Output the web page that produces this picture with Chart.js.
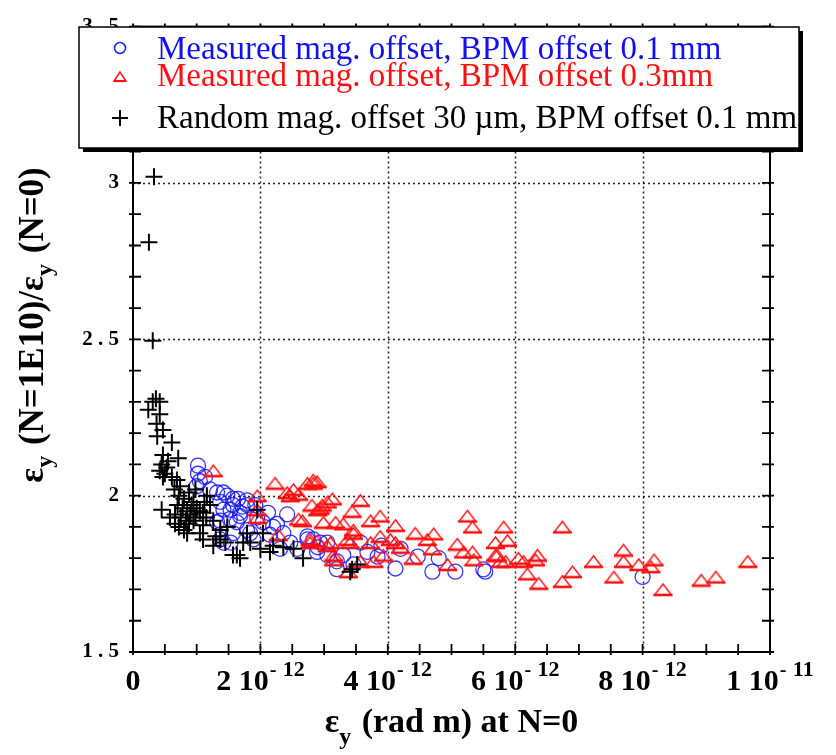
<!DOCTYPE html>
<html>
<head>
<meta charset="utf-8">
<script src="https://cdn.jsdelivr.net/npm/chart.js@4.4.1/dist/chart.umd.min.js"></script>
<style>
html,body{margin:0;padding:0;background:#fff;}
canvas{display:block;}
</style>
</head>
<body>
<canvas id="c" width="836" height="755"></canvas>
<script>
// ---- DATA (x in units of 1e-12 rad m, y = ratio) ----
const X_UNIT = 1e-12;

const seriesLabels = [
  'Measured mag. offset, BPM offset 0.1 mm',
  'Measured mag. offset, BPM offset 0.3mm',
  'Random mag. offset 30 \u00b5m, BPM offset 0.1 mm'
];

const bluePoints = [
  [1.02,2.096],[1.02,2.07],[1.05,2.046],[1.13,2.06],[1.21,2.02],[1.32,2.01],[1.48,2.00],[1.37,1.98],
  [1.57,1.99],[1.53,1.955],[1.37,1.92],[1.68,1.945],[1.79,1.97],[1.63,1.915],[1.37,1.86],[1.53,1.85],
  [1.84,1.88],[1.42,2.01],[1.65,1.99],[1.79,1.985],[1.57,1.97],[1.72,1.965],[1.92,1.97],[1.42,1.955],
  [1.32,1.915],[1.52,1.925],[1.68,1.935],[2.12,1.945],[2.42,1.94],[2.26,1.91],[2.04,1.915],[1.79,1.89],
  [1.57,1.88],[1.42,1.85],[1.89,1.86],[2.15,1.875],[2.36,1.88],[2.47,1.85],[2.31,1.83],[2.58,1.83],
  [2.74,1.86],[2.83,1.86],[2.94,1.85],[3.05,1.85],[2.89,1.82],[3.05,1.81],[3.20,1.79],[3.20,1.765],
  [3.46,1.78],[2.74,1.87],[2.90,1.835],[3.57,1.85],[3.30,1.81],[3.68,1.82],[3.84,1.805],[3.90,1.84],
  [4.12,1.767],[4.20,1.83],[4.47,1.805],[4.80,1.80],[4.70,1.757],[5.06,1.757],[5.50,1.764],[5.53,1.757],
  [8.00,1.74],[1.95,1.93],[2.20,1.90],[1.00,2.03]
];

const redPoints = [
  [1.26,2.08],[1.95,2.00],[1.95,1.955],[1.95,1.93],[2.23,2.04],[2.42,2.01],[2.52,2.02],[2.47,2.00],
  [2.60,2.005],[2.74,2.04],[2.83,2.04],[2.89,2.045],[2.81,1.97],[2.94,1.96],[3.05,1.98],[3.13,1.99],
  [3.44,1.95],[2.60,1.925],[2.99,1.915],[3.18,1.915],[3.30,1.91],[3.46,1.89],[3.37,1.86],[2.28,1.875],
  [2.78,1.86],[2.89,1.855],[3.05,1.84],[3.15,1.81],[2.83,2.05],[3.57,1.985],[2.97,1.97],[2.90,1.955],
  [3.88,1.935],[3.73,1.92],[2.66,1.92],[4.12,1.905],[5.25,1.935],[5.33,1.90],[4.43,1.88],[4.72,1.878],
  [4.62,1.86],[3.46,1.88],[3.88,1.87],[4.04,1.86],[2.78,1.85],[3.10,1.85],[3.41,1.85],[3.73,1.85],
  [4.12,1.85],[4.20,1.835],[3.93,1.81],[4.70,1.83],[5.09,1.845],[5.19,1.82],[5.33,1.82],[5.35,1.795],
  [5.72,1.81],[5.77,1.79],[4.94,1.78],[4.40,1.80],[3.15,1.795],[3.57,1.79],[3.38,1.757],[3.78,1.79],
  [5.82,1.90],[6.74,1.90],[5.69,1.85],[5.88,1.857],[5.69,1.81],[5.85,1.79],[6.05,1.80],[6.13,1.79],
  [6.35,1.81],[6.32,1.795],[6.19,1.75],[6.37,1.72],[6.74,1.726],[6.90,1.757],[7.23,1.79],[7.55,1.74],
  [7.70,1.826],[7.70,1.79],[7.94,1.78],[8.18,1.795],[8.13,1.773],[8.32,1.70],[8.92,1.73],[9.15,1.74],
  [9.65,1.79]
];

const blackPoints = [
  [0.33,3.02],[0.25,2.81],[0.31,2.495],[0.31,2.30],[0.42,2.30],[0.36,2.31],[0.24,2.275],[0.42,2.26],
  [0.37,2.23],[0.47,2.21],[0.38,2.19],[0.61,2.17],[0.55,2.11],[0.71,2.12],[0.47,2.13],[0.45,2.10],
  [0.42,2.08],[0.53,2.09],[0.50,2.07],[0.47,2.06],[0.61,2.06],[0.69,2.05],[0.74,2.03],[0.65,2.02],
  [0.72,2.00],[0.80,1.99],[0.88,2.01],[0.95,1.98],[0.70,1.97],[0.78,1.96],[0.85,1.95],[0.92,1.97],
  [1.00,1.96],[0.66,1.94],[0.75,1.93],[0.83,1.92],[0.90,1.94],[0.98,1.93],[1.05,1.95],[0.72,1.90],
  [0.80,1.89],[0.88,1.91],[0.45,1.955],[0.58,1.93],[0.66,1.91],[0.85,1.88],[1.05,1.88],[0.95,1.92],
  [1.10,1.945],[1.16,2.00],[1.21,1.97],[1.10,1.905],[1.26,1.92],[1.10,1.86],[1.37,1.86],[1.26,1.84],
  [1.63,1.81],[1.79,1.88],[1.73,1.85],[1.48,1.90],[1.30,1.87],[1.37,1.89],[1.68,1.80],[1.57,1.81],
  [1.84,1.85],[2.00,1.83],[2.15,1.82],[2.20,1.84],[2.36,1.835],[2.52,1.83],[2.67,1.80],[1.95,1.955],
  [2.04,1.88],[3.44,1.765],[3.52,1.78],[3.41,1.757],[1.12,1.98],[0.98,2.02],[1.15,1.93],[1.45,1.85]
];

const xTickValues = [0, 2, 4, 6, 8, 10];
const xTickBase = ['0', '2 10', '4 10', '6 10', '8 10', '1 10'];
const xTickExp  = ['', '-12', '-12', '-12', '-12', '-11'];
const yTickValues = [1.5, 2, 2.5, 3, 3.5];
const yTickLabels = ['1 . 5', '2', '2 . 5', '3', '3 . 5'];
const xGridValues = [2, 4, 6, 8];
const yGridValues = [2, 2.5, 3];
const xTitleParts = [['\u03b5', false], ['y', true], [' (rad m) at N=0', false]];
const yTitleParts = [['\u03b5', false], ['y', true], [' (N=1E10)/\u03b5', false], ['y', true], [' (N=0)', false]];

// ---- build ----
const toXY = arr => arr.map(p => ({x: p[0] * X_UNIT, y: p[1]}));

function makeTriangle(w, h, color) {
  const c = document.createElement('canvas');
  c.width = w + 4; c.height = h + 4;
  const g = c.getContext('2d');
  g.strokeStyle = color;
  g.lineWidth = 1.4;
  g.beginPath();
  g.moveTo(c.width / 2, 2);
  g.lineTo(2, h + 2);
  g.lineTo(w + 2, h + 2);
  g.closePath();
  g.stroke();
  g.lineWidth = 2.6;
  g.beginPath();
  g.moveTo(1, h + 2);
  g.lineTo(w + 3, h + 2);
  g.stroke();
  return c;
}
const triImg = makeTriangle(17, 11, '#ff1010');

const SERIF = '"Liberation Serif", "Times New Roman", serif';

const decoPlugin = {
  id: 'deco',
  beforeDatasetsDraw(chart) {
    const {ctx, chartArea: a, scales: {x, y}} = chart;
    ctx.save();
    ctx.strokeStyle = '#222';
    ctx.lineWidth = 1.5;
    ctx.setLineDash([2, 3]);
    xGridValues.forEach(v => {
      const px = Math.round(x.getPixelForValue(v * X_UNIT)) + 0.5;
      ctx.beginPath(); ctx.moveTo(px, a.top); ctx.lineTo(px, a.bottom); ctx.stroke();
    });
    yGridValues.forEach(v => {
      const py = Math.round(y.getPixelForValue(v)) + 0.5;
      ctx.beginPath(); ctx.moveTo(a.left, py); ctx.lineTo(a.right, py); ctx.stroke();
    });
    ctx.restore();
  },
  afterDatasetsDraw(chart) {
    const {ctx, chartArea: a, scales: {x, y}} = chart;
    ctx.save();
    ctx.strokeStyle = '#000';
    ctx.lineWidth = 2;
    ctx.strokeRect(a.left, a.top, a.right - a.left, a.bottom - a.top);
    ctx.lineWidth = 1.8;
    for (let i = 0; i <= 20; i++) {
      const px = x.getPixelForValue(i * 0.5 * X_UNIT);
      ctx.beginPath();
      ctx.moveTo(px, a.bottom + 3); ctx.lineTo(px, a.bottom - 8);
      ctx.moveTo(px, a.top - 3); ctx.lineTo(px, a.top + 8);
      ctx.stroke();
    }
    for (let i = 0; i <= 20; i++) {
      const py = y.getPixelForValue(1.5 + i * 0.1);
      ctx.beginPath();
      ctx.moveTo(a.left - 4, py); ctx.lineTo(a.left + 8, py);
      ctx.moveTo(a.right + 4, py); ctx.lineTo(a.right - 8, py);
      ctx.stroke();
    }
    ctx.restore();
  },
  afterDraw(chart) {
    const {ctx, chartArea: a, scales: {x, y}} = chart;
    ctx.save();
    ctx.fillStyle = '#000';
    ctx.textBaseline = 'alphabetic';
    ctx.textAlign = 'left';
    const baseFont = 'bold 30px ' + SERIF;
    const minusFont = 'bold 20px ' + SERIF;
    const expFont = 'bold 22px ' + SERIF;
    xTickValues.forEach((v, i) => {
      const px = x.getPixelForValue(v * X_UNIT);
      ctx.font = baseFont;
      const wb = ctx.measureText(xTickBase[i]).width;
      let wExp = 0, digits = '';
      if (xTickExp[i]) {
        digits = xTickExp[i].slice(1);
        ctx.font = expFont;
        wExp = 14 + ctx.measureText(digits).width;
      }
      const x0 = px - (wb + wExp) / 2;
      ctx.font = baseFont;
      ctx.fillText(xTickBase[i], x0, 690);
      if (xTickExp[i]) {
        ctx.font = minusFont;
        ctx.fillText('-', x0 + wb + 1, 676);
        ctx.font = expFont;
        ctx.fillText(digits, x0 + wb + 14, 676);
      }
    });

    function partsWidth(parts, big, small) {
      let w = 0;
      parts.forEach(p => { ctx.font = p[1] ? small : big; w += ctx.measureText(p[0]).width + (p[1] ? 2 : 0); });
      return w;
    }
    function drawParts(parts, big, small, subDy) {
      let cx = 0;
      parts.forEach(p => {
        ctx.font = p[1] ? small : big;
        ctx.fillText(p[0], cx, p[1] ? subDy : 0);
        cx += ctx.measureText(p[0]).width + (p[1] ? 2 : 0);
      });
    }
    const xtBig = 'bold 34px ' + SERIF, xtSmall = 'bold 24px ' + SERIF;
    const wx = partsWidth(xTitleParts, xtBig, xtSmall);
    ctx.save();
    ctx.translate((a.left + a.right) / 2 - wx / 2, 732);
    drawParts(xTitleParts, xtBig, xtSmall, 12);
    ctx.restore();

    const ytBig = 'bold 35px ' + SERIF, ytSmall = 'bold 24px ' + SERIF;
    const wy = partsWidth(yTitleParts, ytBig, ytSmall);
    ctx.save();
    ctx.translate(43, 325 + wy / 2);
    ctx.rotate(-Math.PI / 2);
    drawParts(yTitleParts, ytBig, ytSmall, 9);
    ctx.restore();

    // legend box with shadow
    const L = 79, T = 27, R = 799, B = 148;
    ctx.fillStyle = '#000';
    ctx.fillRect(L + 4, T + 4, R - L, B - T);
    ctx.fillStyle = '#fff';
    ctx.fillRect(L, T, R - L, B - T);
    ctx.strokeStyle = '#000';
    ctx.lineWidth = 1.5;
    ctx.strokeRect(L, T, R - L, B - T);

    ctx.lineWidth = 1.5;
    ctx.strokeStyle = '#1a1aff';
    ctx.beginPath(); ctx.arc(120, 48, 5.5, 0, Math.PI * 2); ctx.stroke();
    ctx.strokeStyle = '#ff1010';
    ctx.beginPath(); ctx.moveTo(120, 72); ctx.lineTo(114, 81); ctx.lineTo(126, 81); ctx.closePath(); ctx.stroke();
    ctx.lineWidth = 2.2;
    ctx.beginPath(); ctx.moveTo(114, 81); ctx.lineTo(126, 81); ctx.stroke();
    ctx.strokeStyle = '#000';
    ctx.lineWidth = 2;
    ctx.beginPath(); ctx.moveTo(112, 118); ctx.lineTo(128, 118); ctx.moveTo(120, 110); ctx.lineTo(120, 126); ctx.stroke();

    ctx.font = '33px ' + SERIF;
    ctx.textAlign = 'left';
    ctx.fillStyle = '#1010f0';
    ctx.fillText(seriesLabels[0], 157, 59);
    ctx.fillStyle = '#ff1010';
    ctx.fillText(seriesLabels[1], 157, 86);
    ctx.fillStyle = '#000';
    ctx.save();
    ctx.beginPath(); ctx.rect(L, T, R - L - 1, B - T); ctx.clip();
    ctx.fillText(seriesLabels[2], 157, 128);
    ctx.restore();
    ctx.restore();
  }
};

new Chart(document.getElementById('c').getContext('2d'), {
  type: 'scatter',
  data: {
    datasets: [
      {
        label: seriesLabels[0], data: toXY(bluePoints), order: 2,
        pointStyle: 'circle', pointRadius: 7.5, pointBorderWidth: 1.3,
        borderColor: 'rgba(20,20,255,0.85)', pointBorderColor: 'rgba(20,20,255,0.85)',
        backgroundColor: 'rgba(0,0,0,0)', pointBackgroundColor: 'rgba(0,0,0,0)'
      },
      {
        label: seriesLabels[1], data: toXY(redPoints), order: 1,
        pointStyle: triImg, pointRadius: 9,
        borderColor: '#ff1010', backgroundColor: 'rgba(0,0,0,0)'
      },
      {
        label: seriesLabels[2], data: toXY(blackPoints), order: 0,
        pointStyle: 'cross', pointRadius: 8.5, pointBorderWidth: 2,
        borderColor: '#000', pointBorderColor: '#000', backgroundColor: '#000'
      }
    ]
  },
  options: {
    responsive: false,
    animation: false,
    devicePixelRatio: 1,
    layout: {padding: {left: 0, top: 16, right: 66, bottom: 0}},
    plugins: {legend: {display: false}, tooltip: {enabled: false}},
    scales: {
      x: {
        type: 'linear', min: 0, max: 10 * X_UNIT,
        ticks: {display: false, stepSize: 2 * X_UNIT},
        grid: {display: false, drawTicks: false},
        border: {display: false},
        afterFit(s) { s.height = 103; }
      },
      y: {
        type: 'linear', min: 1.5, max: 3.5,
        ticks: {
          stepSize: 0.5, padding: 14, color: '#000',
          font: {family: SERIF, size: 21, weight: 'bold'},
          callback: (v) => {
            const i = yTickValues.findIndex(t => Math.abs(t - v) < 1e-9);
            return i >= 0 ? yTickLabels[i] : '';
          }
        },
        grid: {display: false, drawTicks: false},
        border: {display: false},
        afterFit(s) { s.width = 133; }
      }
    }
  },
  plugins: [decoPlugin]
});
</script>
</body>
</html>
